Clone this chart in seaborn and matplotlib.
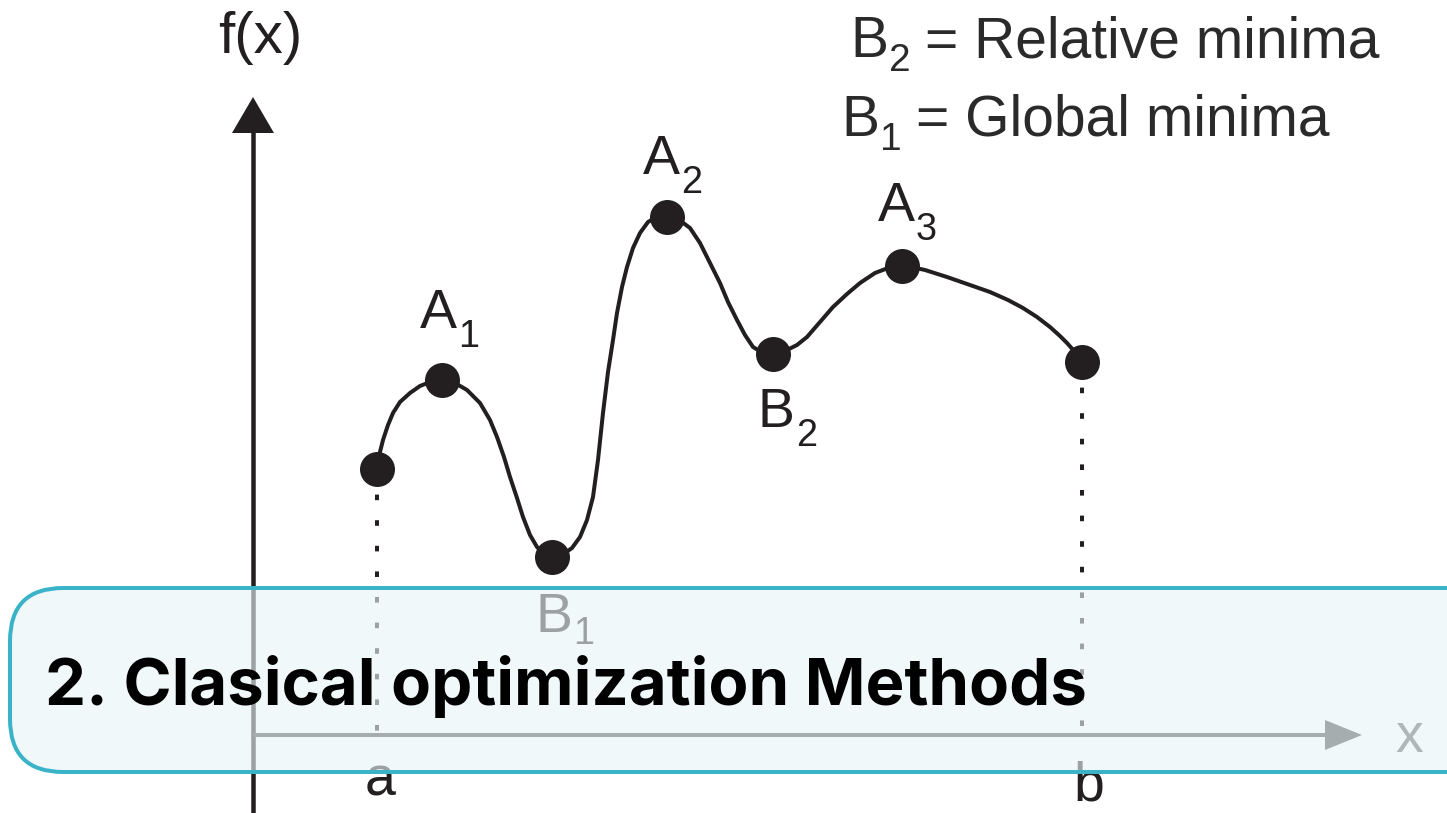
import matplotlib
matplotlib.use("Agg")
import matplotlib.pyplot as plt
from matplotlib.patches import FancyBboxPatch, Polygon
import seaborn as sns
import pandas as pd

# Traced shape of f(x) on [a, b]
curve_x = [377, 380, 383, 388, 393, 400, 410, 420, 430, 442, 455, 467, 480, 490,
           497, 504, 510, 517, 523, 530, 537, 545, 552, 562, 572, 580, 587, 593,
           598, 603, 608, 613, 617, 622, 627, 633, 640, 648, 657, 667, 678, 690,
           700, 710, 720, 728, 737, 745, 753, 763, 773, 785, 797, 807, 820, 833,
           847, 860, 875, 888, 902, 925, 947, 970, 990, 1008, 1023, 1037, 1050,
           1060, 1067, 1075, 1082]
curve_f = [343, 361, 373, 388, 400, 411, 420, 427, 431, 433, 430, 423, 410, 393,
           376, 356, 336, 315, 296, 278, 266, 258, 256, 258, 265, 276, 293, 316,
           353, 400, 441, 473, 500, 526, 546, 565, 580, 591, 596, 597, 594, 585,
           570, 550, 530, 511, 493, 478, 466, 460, 459, 462, 468, 476, 491, 506,
           519, 530, 540, 545, 548, 543, 536, 528, 521, 513, 505, 496, 486,
           477, 470, 461, 451]

# Marked points: interval ends, maxima and minima
point_names = ["a", "A1", "B1", "A2", "B2", "A3", "b"]
point_x = [377, 442, 552, 667, 773, 902, 1082]
point_f = [344, 433, 256, 596, 459, 547, 451]

# Point labels: letter, subscript, left x, baseline, subscript drop
label_main = ["A", "A", "A", "B", "B"]
label_sub = ["1", "2", "3", "1", "2"]
label_x = [420, 643, 878, 535, 758]
label_f = [485, 639, 592, 181, 386]
label_drop = [19, 19, 19, 12, 19]

legend_main = ["B", "B"]
legend_sub = ["2", "1"]
legend_rest = ["= Relative minima", "= Global minima"]
legend_x = [850, 841]
legend_f = [756, 677]

title = "2. Clasical optimization Methods"

W, H = 1447, 813
INK = "#231f20"

sns.set_theme(style="white")
plt.rcParams["font.family"] = ["Liberation Sans", "DejaVu Sans"]

fig = plt.figure(figsize=(W / 100, H / 100), dpi=100)
ax = fig.add_axes([0, 0, 1, 1])
px = 72 / 100  # points per pixel

# vertical f(x) axis with arrow
ax.plot([253, 253], [0, 682], color=INK, lw=4.5 * px, solid_capstyle="butt", zorder=2)
ax.add_patch(Polygon([[232, 680], [274, 680], [253, 716]], closed=True,
                     color=INK, lw=0, zorder=2))
# horizontal x axis with arrow
ax.plot([253, 1330], [78, 78], color="#3c3c3c", lw=4 * px, solid_capstyle="butt", zorder=2)
ax.add_patch(Polygon([[1325, 93], [1325, 63], [1362, 78]], closed=True,
                     color="#3c3c3c", lw=0, zorder=2))

# dotted drops from the interval ends to the x axis
for xi, fi in [(point_x[0], point_f[0]), (point_x[-1], point_f[-1])]:
    ax.plot([xi, xi], [fi, 78], color=INK, lw=4 * px, linestyle=(0, (1.4, 5.0)),
            dash_capstyle="butt", zorder=2)

df_curve = pd.DataFrame({"x": curve_x, "f": curve_f})
sns.lineplot(data=df_curve, x="x", y="f", sort=False, estimator=None,
             color=INK, lw=4 * px, ax=ax, zorder=3,
             solid_joinstyle="round", solid_capstyle="round")
df_pts = pd.DataFrame({"name": point_names, "x": point_x, "f": point_f})
sns.scatterplot(data=df_pts, x="x", y="f", color=INK, s=(35 * px) ** 2,
                linewidth=0, ax=ax, zorder=4, legend=False)
ax.set_xlim(0, W)
ax.set_ylim(0, H)
ax.axis("off")


def subscripted(x, f, main, sub, rest="", size=40, drop=20, gap=16, color=INK):
    """Letter with a lowered subscript, optionally followed by more text."""
    inv = ax.transData.inverted()
    t = ax.text(x, f, main, fontsize=size, color=color, ha="left",
                va="baseline", zorder=5)
    fig.canvas.draw()
    xr = inv.transform((t.get_window_extent().x1, 0))[0]
    s = ax.text(xr + 1, f - drop, sub, fontsize=size * 0.68, color=color,
                ha="left", va="baseline", zorder=5)
    if rest:
        fig.canvas.draw()
        xr2 = inv.transform((s.get_window_extent().x1, 0))[0]
        ax.text(xr2 + gap, f, rest, fontsize=size, color=color,
                ha="left", va="baseline", zorder=5)


FS = 40
for m, sb, xx, ff, dr in zip(label_main, label_sub, label_x, label_f, label_drop):
    subscripted(xx, ff, m, sb, size=FS, drop=dr)
for m, sb, r, xx, ff in zip(legend_main, legend_sub, legend_rest, legend_x, legend_f):
    subscripted(xx, ff, m, sb, r, size=41, drop=14, gap=14, color="#2a2a2a")
ax.text(218, 760, "f(x)", fontsize=42, color=INK, ha="left", va="baseline", zorder=5)
ax.text(365, 18, "a", fontsize=FS, color=INK, ha="left", va="baseline", zorder=5)
ax.text(1073, 13, "b", fontsize=FS, color=INK, ha="left", va="baseline", zorder=5)
ax.text(1395, 61, "x", fontsize=FS, color="#555555", ha="left", va="baseline", zorder=5)

# translucent caption panel
panel = FancyBboxPatch((10, 41), 1600, 184,
                       boxstyle="round,pad=0,rounding_size=53",
                       facecolor=(231 / 255, 244 / 255, 247 / 255, 0.62),
                       edgecolor="#3ab3c9", lw=4 * px, zorder=10)
ax.add_patch(panel)
ax.text(45, 108, title, fontsize=47, fontweight="bold", color="black",
        family=["Inter", "DejaVu Sans"], ha="left", va="baseline", zorder=11)

fig.savefig("out.png", dpi=100)
